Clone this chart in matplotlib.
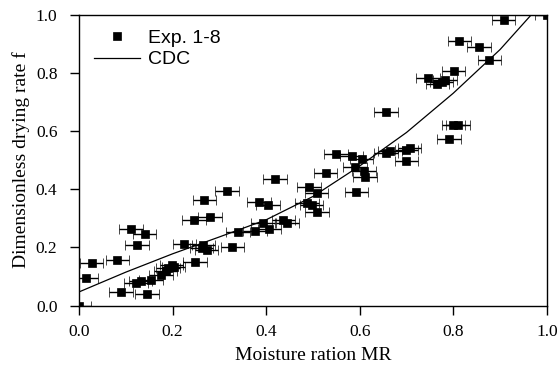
import numpy as np
import matplotlib
matplotlib.use('Agg')
import matplotlib.pyplot as plt

# Experimental points (moisture ratio MR, dimensionless drying rate f), runs 1-8
mr_exp = [0.000, 0.016, 0.027, 0.082, 0.090, 0.111, 0.124, 0.140, 0.122, 0.132,
          0.145, 0.154, 0.175, 0.185, 0.190, 0.198, 0.202, 0.225, 0.248, 0.246,
          0.262, 0.266, 0.273, 0.268, 0.280, 0.316, 0.328, 0.340, 0.376, 0.385,
          0.404, 0.393, 0.407, 0.419, 0.437, 0.445, 0.492, 0.487, 0.497, 0.508,
          0.509, 0.527, 0.549, 0.583, 0.604, 0.590, 0.609, 0.611, 0.593, 0.656,
          0.665, 0.700, 0.707, 0.700, 0.656, 0.746, 0.766, 0.775, 0.782, 0.801,
          0.813, 0.855, 0.877, 0.908, 0.791, 0.800, 0.810, 1.000]
f_exp = [0.000, 0.094, 0.148, 0.158, 0.046, 0.262, 0.207, 0.247, 0.078, 0.083,
         0.041, 0.087, 0.104, 0.120, 0.128, 0.140, 0.132, 0.211, 0.150, 0.294,
         0.198, 0.209, 0.192, 0.363, 0.306, 0.394, 0.203, 0.254, 0.257, 0.355,
         0.346, 0.285, 0.263, 0.434, 0.294, 0.285, 0.409, 0.354, 0.346, 0.386,
         0.323, 0.457, 0.520, 0.514, 0.503, 0.475, 0.462, 0.443, 0.389, 0.526,
         0.531, 0.534, 0.542, 0.497, 0.665, 0.783, 0.760, 0.768, 0.774, 0.805,
         0.908, 0.888, 0.845, 0.983, 0.571, 0.620, 0.622, 1.000]
mr_err = 0.025

# Characteristic drying curve (CDC)
mr_cdc = [0.0, 0.1, 0.2, 0.3, 0.4, 0.5, 0.6, 0.7, 0.8, 0.9, 0.967]
f_cdc = [0.047, 0.115, 0.178, 0.236, 0.295, 0.375, 0.480, 0.595, 0.730, 0.880, 1.0]

plt.rcParams['font.family'] = 'Liberation Serif'

fig = plt.figure(figsize=(5.58, 3.66), dpi=100)
ax = fig.add_axes([0.1416, 0.165, 0.8384, 0.795])

ax.errorbar(mr_exp, f_exp, xerr=mr_err, fmt='s', color='black', ms=5.8, mew=0.5,
            elinewidth=1.0, capsize=3.5, capthick=1.0, label='_nolegend_')
ax.plot([], [], 's', color='black', ms=5.8, mew=0.5, label='Exp. 1-8')
ax.plot(mr_cdc, f_cdc, color='black', linewidth=0.9, label='CDC')

ax.set_xlim(0, 1.0)
ax.set_ylim(0, 1.0)
ax.set_xticks(np.arange(0, 1.01, 0.2))
ax.set_yticks(np.arange(0, 1.01, 0.2))
ax.xaxis.set_major_formatter(matplotlib.ticker.FormatStrFormatter('%.1f'))
ax.yaxis.set_major_formatter(matplotlib.ticker.FormatStrFormatter('%.1f'))
ax.tick_params(direction='out', length=6.5, width=1, labelsize=12.5)
ax.tick_params(axis='x', pad=7)
ax.tick_params(axis='y', pad=9)
for s in ax.spines.values():
    s.set_linewidth(1.0)

ax.set_xlabel('Moisture ration MR', fontsize=14, labelpad=4.5)
ax.set_ylabel('Dimensionless drying rate f', fontsize=14, labelpad=4)

ax.legend(loc='upper left', frameon=False, handlelength=2.4, handletextpad=0.4,
          labelspacing=0.2, borderaxespad=0.35,
          prop={'family': 'Liberation Sans', 'size': 14})

fig.savefig('out.png', dpi=100)
